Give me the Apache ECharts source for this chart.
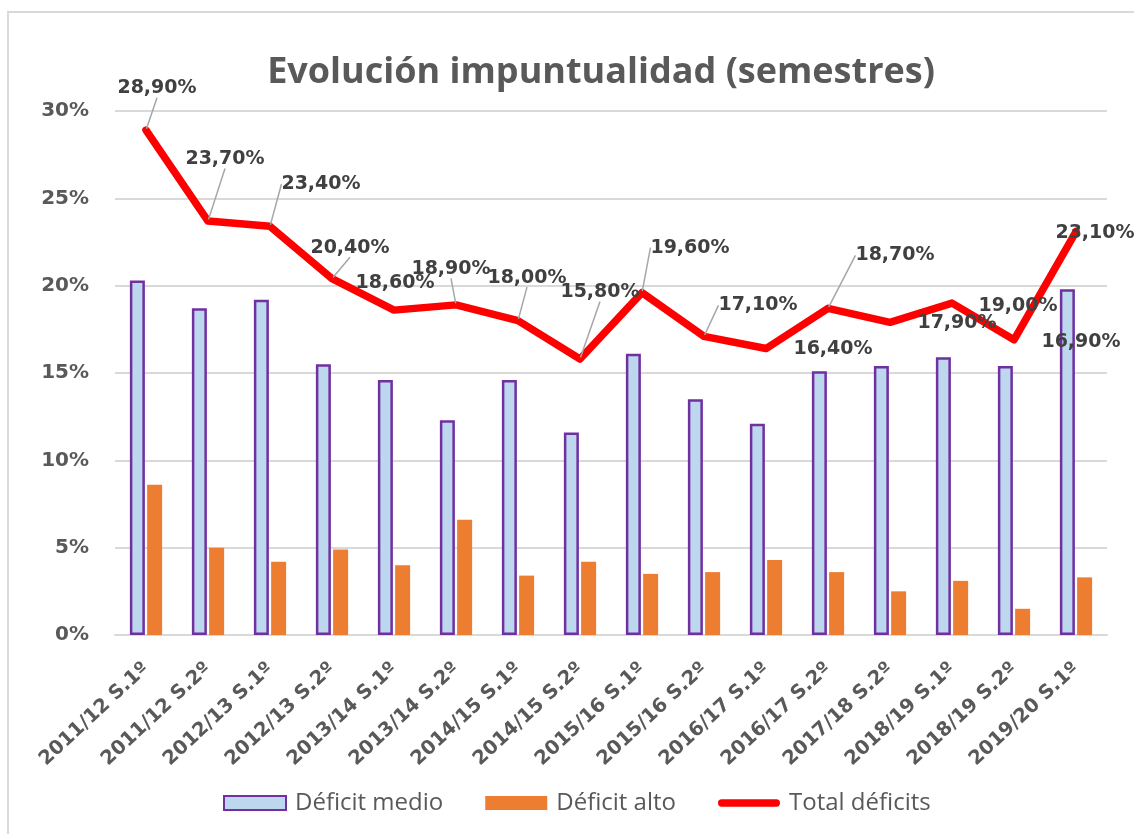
<!DOCTYPE html>
<html>
<head>
<meta charset="utf-8">
<title>Evolución impuntualidad</title>
<script src="https://cdn.jsdelivr.net/npm/echarts@6/dist/echarts.min.js"></script>
<style>
  html, body { margin: 0; padding: 0; background: #ffffff; }
  #chart { width: 1134px; height: 834px; }
</style>
</head>
<body>
<div id="chart"></div>
<script>
// semestres
const categories = [
  '2011/12 S.1º', '2011/12 S.2º', '2012/13 S.1º', '2012/13 S.2º',
  '2013/14 S.1º', '2013/14 S.2º', '2014/15 S.1º', '2014/15 S.2º',
  '2015/16 S.1º', '2015/16 S.2º', '2016/17 S.1º', '2016/17 S.2º',
  '2017/18 S.2º', '2018/19 S.1º', '2018/19 S.2º', '2019/20 S.1º'
];
const deficitMedio = [20.3, 18.7, 19.2, 15.5, 14.6, 12.3, 14.6, 11.6, 16.1, 13.5, 12.1, 15.1, 15.4, 15.9, 15.4, 19.8];
const deficitAlto = [8.6, 5.0, 4.2, 4.9, 4.0, 6.6, 3.4, 4.2, 3.5, 3.6, 4.3, 3.6, 2.5, 3.1, 1.5, 3.3];
const totalDeficits = [28.9, 23.7, 23.4, 20.4, 18.6, 18.9, 18.0, 15.8, 19.6, 17.1, 16.4, 18.7, 17.9, 19.0, 16.9, 23.1];
const yTicks = [0, 30, 5]; // min, max, interval

// donde van las etiquetas de la linea (desplazamiento desde el punto)
const labelShift = [
  [11, -42], [17, -62], [51, -42], [18, -31], [1, -27], [-5, -36], [9, -43], [20, -67],
  [48, -45], [54, -31], [67, 1], [67, -53], [67, 1], [66, 3], [67, 2], [19, 2]
];
const withLeader = [true, true, true, true, false, true, true, true, true, true, false, true, false, false, false, false];

const boldFont = 'DejaVu Sans';
const textGray = '#595959';

const chart = echarts.init(document.getElementById('chart'));

const option = {
  animation: false,
  backgroundColor: '#ffffff',
  graphic: [{
    type: 'rect',
    shape: { x: 8, y: 12, width: 1300, height: 1000 },
    style: { fill: 'none', stroke: '#d9d9d9', lineWidth: 2 },
    silent: true
  }],
  title: {
    text: 'Evolución impuntualidad (semestres)',
    left: 596,
    textAlign: 'center',
    top: 50,
    textStyle: { fontFamily: 'Open Sans', fontWeight: 'bold', fontSize: 36, color: textGray }
  },
  legend: {
    left: 218,
    top: 786,
    itemWidth: 62,
    itemHeight: 14,
    itemGap: 42,
    textStyle: { fontFamily: 'Open Sans', fontSize: 24, color: textGray, padding: [0, 0, 0, 4] },
    data: [
      { name: 'Déficit medio', icon: 'rect' },
      { name: 'Déficit alto', icon: 'rect' },
      { name: 'Total déficits', icon: 'path://M4,0 L64,0 A4,4 0 0 1 64,8 L4,8 A4,4 0 0 1 4,0 Z' }
    ]
  },
  grid: { left: 115, right: 27, top: 111, bottom: 199 },
  xAxis: {
    type: 'category',
    data: categories,
    axisLine: { lineStyle: { color: '#d9d9d9', width: 2 } },
    axisTick: { show: false },
    axisLabel: {
      interval: 0,
      rotate: 43,
      margin: 31,
      fontFamily: boldFont,
      fontWeight: 'bold',
      fontSize: 19.5,
      color: textGray
    }
  },
  yAxis: {
    type: 'value',
    min: yTicks[0],
    max: yTicks[1],
    interval: yTicks[2],
    axisLine: { show: false },
    axisTick: { show: false },
    splitLine: { lineStyle: { color: '#d9d9d9', width: 2 } },
    axisLabel: {
      formatter: '{value}%',
      margin: 26,
      fontFamily: boldFont,
      fontWeight: 'bold',
      fontSize: 20,
      color: textGray
    }
  },
  series: [
    {
      name: 'Déficit medio',
      type: 'bar',
      data: deficitMedio,
      barWidth: 15,
      barGap: '15%',
      itemStyle: { color: '#BDD7EE', borderColor: '#7030A0', borderWidth: 2.5 }
    },
    {
      name: 'Déficit alto',
      type: 'bar',
      data: deficitAlto,
      barWidth: 15,
      itemStyle: { color: '#ED7D31' }
    },
    {
      name: 'Total déficits',
      type: 'line',
      z: 5,
      data: totalDeficits.map((v, i) => ({ value: v, labelLine: { show: withLeader[i] } })),
      symbol: 'circle',
      symbolSize: 3,
      itemStyle: { color: '#FF0000' },
      lineStyle: { color: '#FF0000', width: 7.5, cap: 'round', join: 'round' },
      label: {
        show: true,
        position: 'inside',
        fontFamily: boldFont,
        fontWeight: 'bold',
        fontSize: 19,
        color: '#404040',
        formatter: p => p.value.toFixed(2).replace('.', ',') + '%'
      },
      labelLine: {
        show: true,
        lineStyle: { color: '#a6a6a6', width: 1.5 }
      },
      labelLayout: function (params) {
        const s = labelShift[params.dataIndex];
        return { dx: s[0], dy: s[1] };
      }
    }
  ]
};

chart.setOption(option);
window.addEventListener('resize', function () {
  chart.resize();
});
</script>
</body>
</html>
